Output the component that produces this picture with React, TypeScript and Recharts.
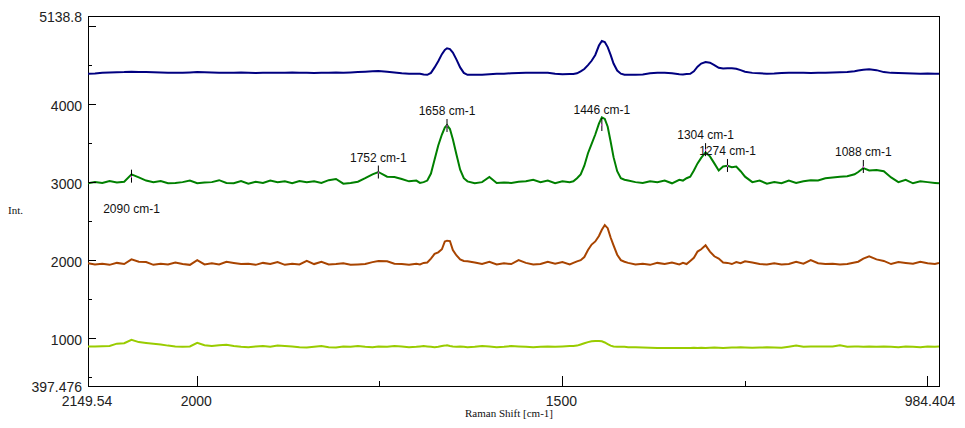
import React from "react";
import { LineChart, Line, XAxis, YAxis, ReferenceArea, ReferenceDot } from "recharts";

// Raman shift (cm-1), shared by all four spectra
const shift = [
  2149.54, 2140, 2130, 2120, 2110, 2100, 2090, 2080, 2070, 2060,
  2050, 2040, 2030, 2020, 2010, 2000, 1990, 1980, 1970, 1960,
  1950, 1940, 1930, 1920, 1910, 1900, 1890, 1880, 1870, 1860,
  1850, 1840, 1830, 1820, 1810, 1800, 1790, 1780, 1770, 1760,
  1752, 1740, 1730, 1720, 1710, 1700,
  1695, 1690, 1685, 1680, 1675, 1670, 1665, 1661, 1658, 1654, 1650, 1645, 1640, 1635, 1630, 1620,
  1610, 1600, 1590, 1580, 1570, 1560, 1550, 1540, 1530, 1520, 1510, 1500, 1490,
  1485, 1480, 1475, 1470, 1465, 1460, 1455, 1450, 1446, 1442, 1438, 1434, 1430, 1425, 1420, 1415, 1410,
  1400, 1390, 1380, 1370, 1360, 1350, 1340,
  1335, 1330, 1325, 1320, 1315, 1310, 1304, 1298, 1292, 1286, 1280, 1274, 1268, 1262, 1256, 1250,
  1240, 1230, 1220, 1210, 1200, 1190, 1180, 1170, 1160, 1150,
  1140, 1130, 1120, 1110, 1100, 1095, 1088, 1080, 1070, 1060,
  1050, 1040, 1030, 1020, 1010, 1000, 990, 984.404,
];

const blue = [
  4400, 4402, 4412, 4415, 4418, 4420, 4425, 4422, 4420, 4418,
  4415, 4412, 4410, 4412, 4415, 4420, 4418, 4415, 4412, 4410,
  4412, 4415, 4412, 4408, 4410, 4412, 4410, 4412, 4415, 4412,
  4410, 4408, 4410, 4412, 4415, 4412, 4415, 4420, 4425, 4430,
  4435, 4425, 4415, 4405, 4400, 4400,
  4398, 4388, 4385, 4410, 4480, 4560, 4650, 4705, 4725, 4715, 4670, 4580, 4480, 4410, 4385, 4385,
  4385, 4392, 4398, 4400, 4405, 4408, 4410, 4410, 4412, 4412, 4400, 4392, 4395,
  4395, 4405, 4430, 4460, 4510, 4565, 4640, 4760, 4820, 4805, 4740, 4640, 4530, 4440, 4400, 4385, 4385,
  4385, 4390, 4405, 4410, 4412, 4405, 4392,
  4390, 4395, 4398, 4430, 4490, 4530, 4550, 4540, 4510, 4475, 4465, 4470, 4470, 4462, 4445, 4425,
  4410, 4405, 4400, 4402, 4408, 4412, 4412, 4410, 4408, 4410,
  4412, 4415, 4418, 4420, 4430, 4440, 4450, 4455, 4445, 4420,
  4410, 4408, 4405, 4402, 4400, 4402, 4400, 4400,
];

const green = [
  2995, 3010, 3000, 3025, 3005, 3015, 3110, 3070, 3030, 3010,
  3025, 2995, 3000, 3010, 3030, 2995, 3005, 3010, 3035, 3000,
  2995, 3025, 2990, 3015, 3000, 3030, 3010, 3020, 2995, 3025,
  3010, 3020, 3000, 3035, 3050, 2990, 3000, 3015, 3060, 3110,
  3140, 3080, 3075, 3050, 3020, 3030,
  3000, 3010, 3030, 3120, 3300, 3480, 3620, 3710, 3740, 3690, 3560, 3360, 3170, 3060, 3020, 2995,
  3010, 3075, 3000, 3005, 3000, 3015, 3020, 3040, 3010, 3030, 2995, 3020, 3010,
  3020, 3060, 3110, 3220, 3380, 3500, 3620, 3760, 3840, 3820, 3720, 3530, 3330, 3150, 3060, 3040, 3030,
  3010, 3000, 3020, 3010, 3030, 2995, 3040,
  3030, 3060, 3080, 3160, 3250, 3320, 3390, 3340, 3250, 3160, 3210, 3220, 3200, 3210, 3150, 3080,
  3010, 3030, 2990, 3010, 2995, 3030, 3000, 3020, 3035, 3030,
  3060, 3070, 3080, 3085, 3110, 3140, 3190, 3160, 3165, 3150,
  3070, 3010, 3040, 2995, 3020, 3010, 3000, 2995,
];

const brown = [
  1970, 1955, 1965, 1950, 1975, 1960, 2020, 1990, 1985, 1950,
  1965, 1955, 1980, 1960, 1950, 2010, 1955, 1970, 1955, 1990,
  1975, 1960, 1965, 1950, 1975, 1960, 1985, 1950, 1965, 1955,
  2000, 1960, 1990, 1955, 1960, 1970, 1950, 1955, 1960, 1985,
  2000, 1995, 1965, 1960, 1950, 1965,
  1955, 1975, 1980, 2030, 2090, 2110, 2150, 2250, 2260, 2255, 2140, 2070, 2020, 2000, 1995, 1980,
  1960, 1990, 1955, 1970, 1960, 2010, 1975, 1955, 1960, 1990, 1965, 1985, 1955,
  1975, 1995, 2010, 2050, 2140, 2210, 2250, 2320, 2400, 2460, 2420, 2300, 2200, 2080, 2010, 1990, 1975,
  1955, 1965, 1950, 1975, 1960, 1980, 1955,
  1975, 1960, 2000, 2040, 2120, 2150, 2200, 2120, 2060, 2030, 1980, 1975, 1960, 1985, 1970, 1995,
  1980, 1960, 1955, 1970, 1955, 1960, 1990, 1965, 2010, 1970,
  1960, 1965, 1955, 1960, 1980, 1990, 2030, 2060, 2020, 2000,
  1960, 1985, 1975, 1965, 1990, 1970, 1960, 1975,
];

const yellow = [
  905, 905, 907, 910, 940, 945, 990, 960, 950, 940,
  930, 915, 905, 900, 905, 950, 920, 910, 920, 925,
  910, 900, 895, 905, 910, 900, 915, 910, 905, 895,
  890, 900, 910, 895, 890, 905, 900, 910, 900, 895,
  905, 900, 910, 905, 895, 900,
  905, 910, 905, 900, 895, 900, 910, 915, 920, 910, 905, 900, 905, 900, 895, 900,
  910, 905, 895, 900, 910, 905, 900, 895, 900, 905, 900, 905, 910,
  910, 915, 930, 945, 960, 970, 975, 975, 970, 955, 935, 915, 905, 900, 900, 900, 895,
  895, 890, 887, 885, 885, 883, 883,
  885, 883, 885, 887, 885, 887, 885, 887, 890, 887, 885, 887, 890, 890, 893, 890,
  887, 890, 893, 890, 887, 900, 915, 900, 905, 903,
  905, 905, 920, 900, 905, 903, 900, 905, 900, 903,
  900, 895, 905, 900, 895, 905, 900, 903,
];

// peak markers on the green spectrum
const peakShift = [2090, 1752, 1658, 1446, 1304, 1274, 1088];
const peakValue = [3080, 3133, 3729, 3742, 3420, 3217, 3204];
const peakLabel = ["2090 cm-1", "1752 cm-1", "1658 cm-1", "1446 cm-1", "1304 cm-1", "1274 cm-1", "1088 cm-1"];

const xTicks = [2149.54, 2000, 1750, 1500, 1250, 1000, 984.404];
const xTickText = ["2149.54", "2000", "", "1500", "", "", "984.404"];
const yTicks = [397.476, 500, 1000, 1500, 2000, 2500, 3000, 3500, 4000, 4500, 5000, 5138.8];
const yTickText = ["397.476", "", "1000", "", "2000", "", "3000", "", "4000", "", "", "5138.8"];

const rows = shift.map((s, i) => ({
  shift: s,
  blue: blue[i],
  green: green[i],
  brown: brown[i],
  yellow: yellow[i],
}));

const FONT = "'Liberation Sans', Arial, sans-serif";

const XTick = (props: any) => {
  const { x, y, payload } = props;
  const v = payload.value;
  const text = xTickText[xTicks.indexOf(v)];
  const len = v === 2000 || v === 1500 || v === 1000 ? 10 : v === 1750 || v === 1250 ? 5 : 0;
  const tx = v === 984.404 ? x - 9 : x - 1;
  return (
    <g>
      {len > 0 && (
        <line x1={x} y1={y} x2={x} y2={y - len} stroke="#000" shapeRendering="crispEdges" />
      )}
      {text && (
        <text x={tx} y={y + 20} textAnchor="middle" fontFamily={FONT} fontSize={14} fill="#222">
          {text}
        </text>
      )}
    </g>
  );
};

const YTick = (props: any) => {
  const { x, y, payload } = props;
  const v = payload.value;
  const text = yTickText[yTicks.indexOf(v)];
  const len = v % 1000 === 0 ? 8 : v % 500 === 0 ? 4 : 0;
  return (
    <g>
      {len > 0 && (
        <line x1={x} y1={y} x2={x + len} y2={y} stroke="#000" shapeRendering="crispEdges" />
      )}
      {text && (
        <text x={x - 6} y={y + 6} textAnchor="end" fontFamily={FONT} fontSize={14} fill="#222">
          {text}
        </text>
      )}
    </g>
  );
};

const PeakMark = ({ cx, cy, text, below }: any) => {
  if (cx == null || cy == null) return null;
  return (
    <g>
      <line x1={cx} y1={cy - 7} x2={cx} y2={cy + 6} stroke="#000" strokeWidth={1} />
      <rect x={cx - 0.5} y={cy - 1} width={1} height={2} fill="#e040e0" />
      <text
        x={cx}
        y={below ? cy + 36 : cy - 11}
        textAnchor="middle"
        fontFamily={FONT}
        fontSize={12}
        fill="#111"
      >
        {text}
      </text>
    </g>
  );
};

export default function App() {
  return (
    <div style={{ position: "absolute", left: 0, top: 0, width: 965, height: 428, background: "#fff" }}>
      <LineChart width={965} height={428} data={rows} margin={{ top: 16, right: 26, bottom: 0, left: 0 }}>
        <XAxis
          dataKey="shift"
          type="number"
          domain={[984.404, 2149.54]}
          reversed
          ticks={xTicks}
          interval={0}
          tick={<XTick />}
          tickLine={false}
          tickSize={0}
          tickMargin={0}
          axisLine={false}
          height={42}
          allowDataOverflow
        />
        <YAxis
          type="number"
          domain={[397.476, 5138.8]}
          ticks={yTicks}
          interval={0}
          tick={<YTick />}
          tickLine={false}
          tickSize={0}
          tickMargin={0}
          axisLine={false}
          width={88}
          allowDataOverflow
        />
        <ReferenceArea
          x1={984.404}
          x2={2149.54}
          y1={397.476}
          y2={5138.8}
          fill="none"
          fillOpacity={0}
          stroke="#000"
          strokeWidth={1}
          shapeRendering="crispEdges"
        />
        <Line type="linear" dataKey="blue" stroke="#000080" strokeWidth={2} dot={false} isAnimationActive={false} />
        <Line type="linear" dataKey="green" stroke="#008000" strokeWidth={2} dot={false} isAnimationActive={false} />
        <Line type="linear" dataKey="brown" stroke="#A84400" strokeWidth={2} dot={false} isAnimationActive={false} />
        <Line type="linear" dataKey="yellow" stroke="#99CC00" strokeWidth={2} dot={false} isAnimationActive={false} />
        {peakShift.map((s, i) => (
          <ReferenceDot
            key={peakLabel[i]}
            x={s}
            y={peakValue[i]}
            shape={(p: any) => <PeakMark {...p} text={peakLabel[i]} below={i === 0} />}
          />
        ))}
      </LineChart>
      <span
        style={{
          position: "absolute",
          left: 8,
          top: 204,
          fontFamily: "'Liberation Serif', 'Times New Roman', serif",
          fontSize: 11,
          color: "#111",
        }}
      >
        Int.
      </span>
      <span
        style={{
          position: "absolute",
          left: 465,
          top: 407,
          fontFamily: "'Liberation Serif', 'Times New Roman', serif",
          fontSize: 11,
          color: "#111",
          whiteSpace: "nowrap",
        }}
      >
        Raman Shift [cm-1]
      </span>
    </div>
  );
}
